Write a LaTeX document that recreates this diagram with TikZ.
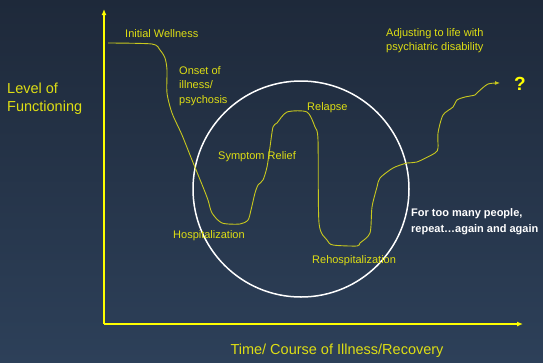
\documentclass[tikz,border=0pt]{standalone}
\usepackage{fontspec}
\setmainfont{Liberation Sans}
\usetikzlibrary{arrows.meta}
\definecolor{navytop}{RGB}{30,41,58}
\definecolor{navybot}{RGB}{45,64,89}
\definecolor{axisyellow}{RGB}{255,255,0}
\definecolor{textyellow}{RGB}{222,222,20}
\definecolor{curveyellow}{RGB}{200,200,30}
\begin{document}
\begin{tikzpicture}[x=1pt,y=-1pt,join=round]
    \tikzstyle{axis} = [draw=axisyellow,line width=2pt,-{Latex[length=6pt,width=5pt]}]
    \tikzstyle{lbl} = [text=textyellow,font=\fontsize{11}{14.5}\selectfont,inner sep=0pt,align=left]
    \tikzstyle{biglbl} = [text=textyellow,font=\fontsize{14.5}{18}\selectfont,inner sep=0pt,align=left]
    \tikzstyle{note} = [text=white,font=\bfseries\fontsize{11}{16}\selectfont,inner sep=0pt,align=left]
    \shade[top color=navytop,bottom color=navybot] (0,0) rectangle (543,362);
    \useasboundingbox (0,0) rectangle (543,362);
    % axes
    \coordinate (origin) at (104,324);
    \coordinate (ytip) at (104,9);
    \coordinate (xtip) at (523,324);
    \draw[axis] (origin) -- (ytip);
    \draw[axis] (origin) -- (xtip);
    % the circle round the cycle
    \node[draw=white,line width=1.5pt,circle,minimum size=216pt,inner sep=0pt] (cycle) at (301,189) {};
    % course of functioning
    \draw[curveyellow,line width=0.9pt,-{Latex[length=5pt,width=4pt]}]
        plot[smooth,tension=0.45] coordinates {
        (108,43) (152,44) (160,50) (165,58) (167,70) (167,93) (172,113) (182,135)
        (192,160) (203,187) (208,200) (212,213) (222,223) (240,224) (248,220)
        (251,210) (255,193) (258,185) (263,180) (267,167) (270,147) (273,127)
        (277,123) (287,112) (307,112) (315,127) (318,140) (319,223) (327,240)
        (333,245) (357,246) (360,243) (370,233) (372,207) (377,187) (380,178)
        (393,168) (407,163) (417,162) (435,153) (438,148) (438,133) (443,115)
        (453,107) (457,100) (465,97) (475,95) (478,92) (488,84) (500,83)};
    % labels
    \node[biglbl,anchor=west] (level) at (7,99) {Level of\\Functioning};
    \node[lbl,anchor=west] (wellness) at (125,34) {Initial Wellness};
    \node[lbl,anchor=north west] (onset) at (179,66) {Onset of\\illness/\\psychosis};
    \node[lbl,anchor=west] (relief) at (218,157) {Symptom Relief};
    \node[lbl,anchor=west] (relapse) at (307,108) {Relapse};
    \node[lbl,anchor=west] (hosp) at (173,236) {Hospitalization};
    \node[lbl,anchor=west] (rehosp) at (312,261) {Rehospitalization};
    \node[lbl,anchor=north west] (adjust) at (386,28) {Adjusting to life with\\psychiatric disability};
    \node[text=axisyellow,font=\bfseries\fontsize{19}{20}\selectfont,inner sep=0pt] (unknown) at (520,84) {?};
    \node[note,anchor=north west] (repeat) at (411,208) {For too many people,\\repeat\ldots again and again};
    \node[biglbl,anchor=center] (time) at (337,351) {Time/ Course of Illness/Recovery};
\end{tikzpicture}
\end{document}
